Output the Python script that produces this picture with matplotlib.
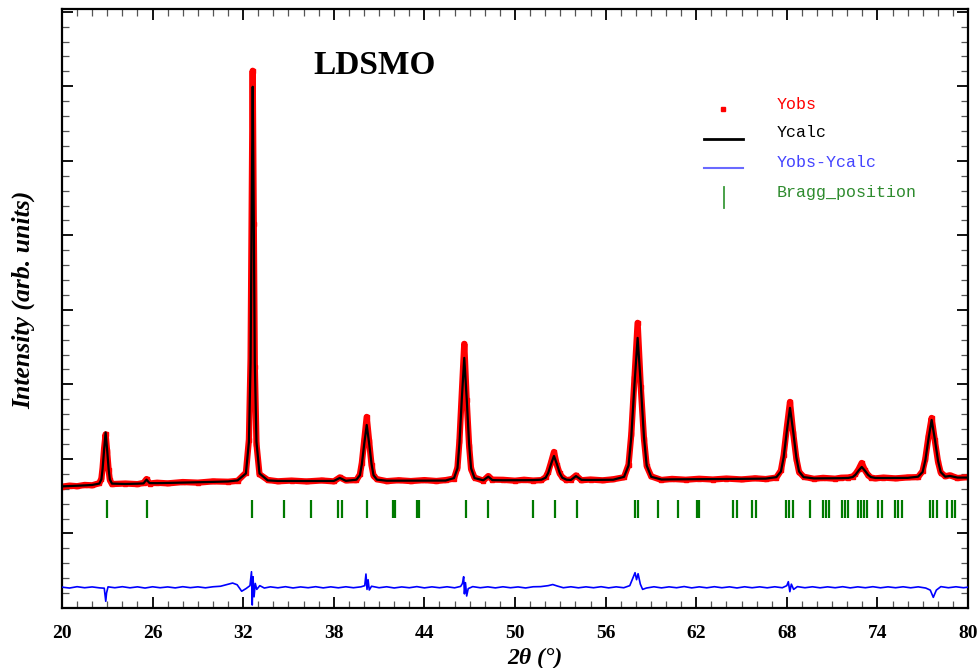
import matplotlib
matplotlib.use("Agg")
import matplotlib.pyplot as plt
from matplotlib.ticker import MultipleLocator

# ---------------------------------------------------------------- data
# 2theta grid, calculated and observed intensity (arb. units)
two_theta = [20.0, 20.5, 21.0, 21.5, 22.0,
             22.47, 22.61, 22.69, 22.79, 22.89, 22.99, 23.09, 23.17, 23.31,
             24.2, 25.0, 25.4, 25.6, 25.8, 26.3, 27.0, 28.0, 29.0, 30.0, 31.0, 31.63,
             32.18, 32.38, 32.49, 32.56, 32.63, 32.70, 32.77, 32.88, 33.08,
             33.63, 34.3, 35.2, 36.2, 37.2, 38.0, 38.4, 38.8,
             39.50, 39.73, 39.86, 40.02, 40.18, 40.34, 40.50, 40.63, 40.86,
             41.5, 42.3, 43.1, 44.0, 44.8, 45.4,
             45.96, 46.19, 46.32, 46.48, 46.64, 46.80, 46.96, 47.09, 47.32,
             47.9, 48.23, 48.5, 49.2, 50.0, 50.6, 51.2,
             51.75, 52.03, 52.20, 52.39, 52.58, 52.77, 52.96, 53.13, 53.41,
             53.7, 54.04, 54.4, 55.0, 55.8, 56.5,
             57.22, 57.52, 57.70, 57.91, 58.12, 58.33, 58.54, 58.72, 59.02,
             59.7, 60.4, 61.3, 62.2, 63.1, 64.0, 65.0, 65.9, 66.6,
             67.31, 67.61, 67.79, 68.00, 68.21, 68.42, 68.63, 68.81, 69.11,
             69.8, 70.4, 71.2, 71.6,
             72.06, 72.36, 72.54, 72.75, 72.96, 73.17, 73.38, 73.56, 73.86,
             74.4, 75.2, 76.0,
             76.69, 76.99, 77.17, 77.38, 77.59, 77.80, 78.01, 78.19, 78.49,
             78.8, 79.3, 80.0]

y_calc = [1632, 1636, 1640, 1645, 1651,
          1669, 1725, 1865, 2124, 2355, 2124, 1865, 1725, 1669,
          1664, 1668, 1672, 1722, 1676, 1675, 1678, 1683, 1688, 1692, 1698, 1712,
          1805, 2228, 3287, 5246, 6993, 5246, 3287, 2228, 1805,
          1712, 1705, 1704, 1704, 1705, 1705, 1745, 1706,
          1722, 1782, 1932, 2209, 2456, 2209, 1932, 1782, 1722,
          1708, 1708, 1709, 1709, 1710, 1710,
          1743, 1875, 2204, 2813, 3356, 2813, 2204, 1875, 1743,
          1714, 1762, 1716, 1714, 1714, 1715, 1716,
          1722, 1748, 1813, 1933, 2040, 1933, 1813, 1748, 1722,
          1718, 1770, 1720, 1718, 1719, 1721,
          1760, 1912, 2293, 2996, 3624, 2996, 2293, 1912, 1760,
          1724, 1726, 1727, 1728, 1730, 1731, 1733, 1734, 1736,
          1756, 1832, 2021, 2372, 2685, 2372, 2021, 1832, 1756,
          1739, 1740, 1741, 1742,
          1745, 1757, 1787, 1843, 1893, 1843, 1787, 1757, 1745,
          1744, 1745, 1746,
          1762, 1824, 1979, 2267, 2523, 2267, 1979, 1824, 1762,
          1772, 1750, 1750]

y_obs = [1628, 1642, 1634, 1651, 1646,
         1675, 1735, 1880, 2140, 2330, 2100, 1850, 1718, 1663,
         1670, 1662, 1678, 1730, 1670, 1681, 1672, 1690, 1682, 1699, 1694, 1706,
         1815, 2260, 3350, 5330, 7208, 5150, 3230, 2200, 1795,
         1718, 1700, 1710, 1698, 1711, 1699, 1752, 1712,
         1716, 1792, 1950, 2260, 2564, 2235, 1915, 1776, 1728,
         1702, 1714, 1703, 1716, 1704, 1716,
         1737, 1885, 2240, 2880, 3544, 2790, 2180, 1866, 1749,
         1708, 1770, 1722, 1720, 1708, 1721, 1710,
         1716, 1755, 1826, 1955, 2094, 1920, 1805, 1755, 1716,
         1724, 1778, 1714, 1724, 1713, 1727,
         1754, 1925, 2330, 3080, 3826, 2960, 2270, 1905, 1766,
         1718, 1732, 1721, 1734, 1724, 1737, 1725, 1740, 1730,
         1750, 1845, 2050, 2420, 2765, 2350, 2005, 1825, 1762,
         1733, 1746, 1735, 1748,
         1751, 1764, 1796, 1860, 1946, 1850, 1782, 1751, 1739,
         1750, 1739, 1752,
         1756, 1836, 2000, 2300, 2550, 2250, 1965, 1818, 1768,
         1780, 1744, 1756]

# difference curve (Yobs - Ycalc, shifted down)
diff_theta = [20.0, 20.5, 21.0, 21.5, 22.0, 22.5, 22.8, 22.9, 22.95, 23.05, 23.5, 24.0, 24.5, 25.0, 25.5,
              26.0, 26.5, 27.0, 27.5, 28.0, 28.5, 29.0, 29.5, 30.0, 30.5, 31.0, 31.3, 31.6, 31.9,
              32.2, 32.45, 32.55, 32.6, 32.65, 32.72, 32.8, 32.9, 33.1, 33.4, 33.8, 34.3, 34.8,
              35.3, 35.8, 36.3, 36.8, 37.3, 37.8, 38.3, 38.8, 39.3, 39.8, 40.05, 40.13, 40.2,
              40.27, 40.35, 40.5, 41.0, 41.5, 42.0, 42.5, 43.0, 43.5, 44.0, 44.5, 45.0, 45.5,
              46.0, 46.4, 46.52, 46.6, 46.65, 46.72, 46.8, 46.9, 47.2, 47.7, 48.2, 48.7, 49.2,
              49.7, 50.2, 50.7, 51.2, 51.7, 52.2, 52.5, 52.8, 53.2, 53.7, 54.2, 54.7, 55.2, 55.7,
              56.2, 56.7, 57.2, 57.6, 57.8, 57.95, 58.05, 58.15, 58.3, 58.45, 58.7, 59.2, 59.7,
              60.2, 60.7, 61.2, 61.7, 62.2, 62.7, 63.2, 63.7, 64.2, 64.7, 65.2, 65.7, 66.2, 66.7,
              67.2, 67.7, 68.0, 68.1, 68.2, 68.3, 68.45, 68.7, 69.2, 69.7, 70.2, 70.7, 71.2, 71.7,
              72.2, 72.7, 73.2, 73.7, 74.2, 74.7, 75.2, 75.7, 76.2, 76.7, 77.2, 77.5, 77.7, 77.9,
              78.2, 78.7, 79.2, 79.7, 80.0]
diff_vals = [280, 268, 286, 272, 283, 270, 266, 90, 200, 284, 272, 286, 271, 284, 268,
             285, 272, 283, 270, 286, 273, 284, 271, 285, 292, 318, 335, 312, 225,
             262, 300, 487, 40, 420, 150, 330, 250, 300, 268, 284, 271, 286,
             269, 283, 272, 286, 270, 284, 271, 285, 272, 284, 300, 456, 250,
             380, 242, 292, 272, 285, 269, 283, 272, 287, 270, 284, 272, 285,
             271, 290, 330, 420, 190, 340, 161, 260, 287, 272, 284, 270, 285,
             272, 283, 269, 285, 287, 300, 315, 295, 272, 285, 271, 284, 272, 286,
             270, 284, 272, 300, 400, 474, 380, 460, 320, 250, 268, 285, 270,
             284, 272, 288, 270, 284, 271, 286, 272, 284, 269, 285, 272, 284, 271,
             285, 272, 300, 353, 219, 320, 250, 287, 272, 285, 271, 284, 272, 286,
             270, 284, 272, 286, 271, 284, 272, 285, 271, 284, 268, 240, 143, 240,
             287, 272, 285, 272, 280]

# Bragg reflection positions
bragg_pos = [22.96, 25.65, 32.6, 34.7, 36.5, 38.3, 38.52, 40.18, 41.9, 42.05, 43.49, 43.66,
             46.75, 48.23, 51.21, 52.65, 54.08, 57.95, 58.17, 59.5, 60.78, 62.04, 62.2,
             64.46, 64.72, 65.72, 65.94, 67.95, 68.17, 68.43, 69.54, 70.37, 70.6, 70.82,
             71.64, 71.85, 72.07, 72.73, 72.91, 73.11, 73.29, 74.06, 74.28, 75.17, 75.38,
             75.61, 77.48, 77.7, 77.93, 78.58, 78.92, 79.14]

x_ticks = [20, 26, 32, 38, 44, 50, 56, 62, 68, 74, 80]

# ---------------------------------------------------------------- figure
fig = plt.figure(figsize=(9.79, 6.68), dpi=100)
ax = fig.add_axes([0.0633, 0.0898, 0.9255, 0.896])

ax.plot(two_theta, y_obs, color="red", lw=4.5, solid_joinstyle="round", zorder=2)
ax.plot(two_theta, y_obs, "s", color="red", ms=3.5, zorder=2)
ax.plot(two_theta, y_calc, color="black", lw=1.6, zorder=3)
ax.plot(diff_theta, diff_vals, color="#0000ff", lw=1.2, zorder=3)
ax.vlines(bragg_pos, 1208, 1450, color="#007a00", lw=1.6, zorder=3)

ax.set_xlim(20, 80)
ax.set_ylim(0, 8030)
ax.set_xticks(x_ticks)
ax.xaxis.set_minor_locator(MultipleLocator(1))
ax.yaxis.set_major_locator(MultipleLocator(1000))
ax.yaxis.set_minor_locator(MultipleLocator(200))
ax.set_yticklabels([])

ax.tick_params(which="both", direction="in", top=True, right=True)
ax.tick_params(which="major", length=8, width=1.3)
ax.tick_params(which="minor", length=5, width=0.9, color="#555555")
ax.tick_params(axis="x", which="major", pad=12, labelsize=14)
for lab in ax.get_xticklabels():
    lab.set_fontfamily("Liberation Serif")
    lab.set_fontweight("bold")
for sp in ax.spines.values():
    sp.set_linewidth(1.6)

ax.set_xlabel("2θ (°)", family="Liberation Serif", fontsize=17, fontweight="bold",
              fontstyle="italic")
ax.xaxis.set_label_coords(0.522, -0.066)
ax.set_ylabel("Intensity (arb. units)", family="Liberation Serif", fontsize=18.5,
              fontweight="bold", fontstyle="italic")
ax.yaxis.set_label_coords(-0.029, 0.515)

ax.text(0.277, 0.907, "LDSMO", transform=ax.transAxes, family="Liberation Serif",
        fontsize=24, fontweight="bold", va="center", ha="left")

# hand-made legend, as in the FullProf output
mono = "Liberation Mono"
ax.plot([0.7296], [0.8338], "s", color="red", ms=3.5, transform=ax.transAxes)
ax.text(0.789, 0.842, "Yobs", color="red", family=mono, fontsize=12, va="center",
        transform=ax.transAxes)
ax.plot([0.7086, 0.7517], [0.7836, 0.7836], color="black", lw=2, transform=ax.transAxes)
ax.text(0.789, 0.7937, "Ycalc", color="black", family=mono, fontsize=12, va="center",
        transform=ax.transAxes)
ax.plot([0.7086, 0.7517], [0.7352, 0.7352], color="#6a6aff", lw=1.5, transform=ax.transAxes)
ax.text(0.789, 0.7436, "Yobs-Ycalc", color="#4444ff", family=mono, fontsize=12,
        va="center", transform=ax.transAxes)
ax.plot([0.7307, 0.7307], [0.6683, 0.7034], color="#3a9a3a", lw=1.3, transform=ax.transAxes)
ax.text(0.789, 0.6934, "Bragg_position", color="#2e8b2e", family=mono, fontsize=12,
        va="center", transform=ax.transAxes)

fig.savefig("out.png", dpi=100)
